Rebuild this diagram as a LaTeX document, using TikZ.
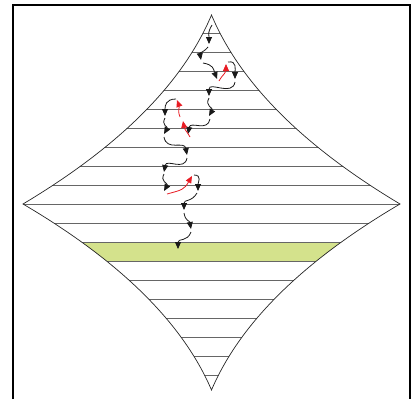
\documentclass[tikz,border=0pt]{standalone}
\usepackage{tikz}
\usetikzlibrary{arrows.meta}
\definecolor{band}{RGB}{212,226,140}
\definecolor{backred}{RGB}{232,28,36}

\begin{document}
\begin{tikzpicture}[x=1pt, y=-1pt, >={Triangle[length=7pt, width=6pt]},
  rung/.style={draw=black!60, line width=0.9pt},
  edge/.style={draw=black!85, line width=0.7pt},
  walk/.style={->, draw=black!90, line width=0.8pt, looseness=1.3},
  back/.style={->, draw=backred, line width=0.8pt, looseness=1.3}]
  \useasboundingbox (0,0) rectangle (412,399);
  % Frame
  \draw[line width=2pt] (13,399) -- (13,5) -- (410,5) -- (410,399);
  % Corners of the star
  \coordinate (T) at (211.5,15);
  \coordinate (L) at (23,204);
  \coordinate (R) at (400,204);
  \coordinate (B) at (211.5,390);
  \def\outline{(T) .. controls (182.9,83) and (120.1,146) .. (L)
    .. controls (120.1,261.1) and (182.9,323.1) .. (B)
    .. controls (240.1,323.1) and (302.9,261.1) .. (R)
    .. controls (302.9,146) and (240.1,83) .. (T) -- cycle}
  % Rungs and the marked band
  \begin{scope}
    \clip \outline;
    \fill[band] (0,242) rectangle (412,261);
    \foreach \y in {33,52,...,375}
      \draw[rung] (0,\y) -- (412,\y);
  \end{scope}
  \draw[edge] \outline;
  % Ends of the steps
  \foreach \n/\x/\y in {s1/212/25, e1/209/44, s2/208/47, e2/201/60,
      s3/203/63, e3/217/79, s4/219/81, e4/226/64, s5/228/62, e5/235/79,
      s6/235/82, e6/209/96, s7/209/98, e7/209/116, s8/210/119, e8/188/134,
      s9/190/137, e9/183/121, s10/180/117, e10/177/100, s11/176/99, e11/165/116,
      s12/165/118, e12/164/134, s13/164/137, e13/187/155, s14/187/158, e14/164/172,
      s15/164/174, e15/164/191, s16/167/194, e16/192/176, s17/194/175, e17/198/191,
      s18/197/193, e18/184/210, s19/184/213, e19/191/229, s20/191/232, e20/178/249}
    \coordinate (\n) at (\x,\y);
  % Steps down and back
  \draw[walk] (s1) to[out=-120, in=90] (e1);
  \draw[walk] (s2) to[out=-130, in=100] (e2);
  \draw[walk] (s3) to[out=-10, in=110] (e3);
  \draw[back] (s4) to[out=60, in=-90] (e4);
  \draw[walk] (s5) to[out=10, in=90] (e5);
  \draw[walk] (s6) to[out=-100, in=90] (e6);
  \draw[walk] (s7) to[out=-120, in=60] (e7);
  \draw[walk] (s8) to[out=-100, in=80] (e8);
  \draw[back] (s9) to[out=120, in=-80] (e9);
  \draw[back] (s10) to[out=110, in=-70] (e10);
  \draw[walk] (s11) to[out=180, in=90] (e11);
  \draw[walk] (s12) to[out=-120, in=60] (e12);
  \draw[walk] (s13) to[out=-80, in=100] (e13);
  \draw[walk] (s14) to[out=-100, in=80] (e14);
  \draw[walk] (s15) to[out=-120, in=60] (e15);
  \draw[back] (s16) to[out=15, in=-120] (e16);
  \draw[walk] (s17) to[out=0, in=90] (e17);
  \draw[walk] (s18) to[out=-120, in=90] (e18);
  \draw[walk] (s19) to[out=-80, in=100] (e19);
  \draw[walk] (s20) to[out=-110, in=90] (e20);
\end{tikzpicture}
\end{document}
